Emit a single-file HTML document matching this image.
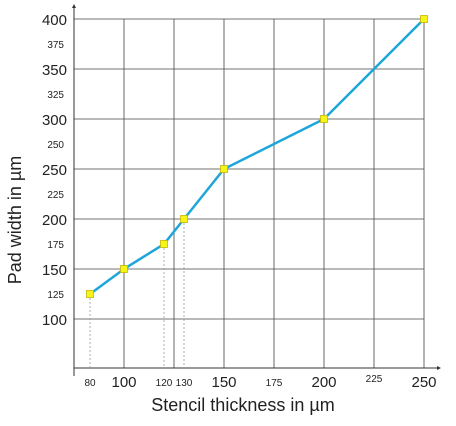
<!DOCTYPE html>
<html><head><meta charset="utf-8"><style>
body{margin:0;background:#fff;}
svg{display:block;font-family:"Liberation Sans",Arial,sans-serif;}
</style></head><body>
<svg id="chart" width="456" height="426" viewBox="0 0 456 426"></svg>
<script>
const xData=[83,100,120,130,150,200,250];
const yData=[125,150,175,200,250,300,400];
const dropIdx=[0,2,3];
const xTickVals=[83,100,120,130,150,175,200,225,250];
const xTickLabels=["80","100","120","130","150","175","200","225","250"];
const xTickBig=[false,true,false,false,true,false,true,false,true];
const yTickVals=[400,375,350,325,300,275,250,225,200,175,150,125,100];
const yTickLabels=["400","375","350","325","300","250","250","225","200","175","150","125","100"];
const yTickBig=[true,false,true,false,true,false,true,false,true,false,true,false,true];
const gridX=[100,125,150,175,200,225,250];
const gridY=[100,150,200,250,300,350,400];

const X=v=>124+(v-100)*2;
const Y=v=>419-v;
const svg=document.getElementById('chart');
const NS='http://www.w3.org/2000/svg';
function mk(tag,attrs,parent){const e=document.createElementNS(NS,tag);for(const k in attrs)e.setAttribute(k,attrs[k]);(parent||svg).appendChild(e);return e;}

const grid=mk('g',{});


gridX.forEach(v=>{mk('line',{x1:X(v),x2:X(v),y1:19,y2:368,stroke:'#444','stroke-width':0.8},grid);});
gridY.forEach(v=>{mk('line',{x1:74,x2:424,y1:Y(v),y2:Y(v),stroke:'#444','stroke-width':0.8},grid);});

const ax=mk('g',{});


mk('line',{x1:74,x2:74,y1:6,y2:376,stroke:'#333','stroke-width':1},ax);
mk('line',{x1:74,x2:438,y1:368,y2:368,stroke:'#333','stroke-width':1},ax);
mk('polygon',{points:'72,8 76,8 74,4',fill:'#333'},ax);
mk('polygon',{points:'437,366 437,370 441,368',fill:'#333'},ax);

dropIdx.forEach(i=>{
  const l=mk('line',{x1:X(xData[i]),x2:X(xData[i]),y1:Y(yData[i]),y2:368,stroke:'#999','stroke-width':0.8,'stroke-dasharray':'2,2'});
  
  
});

const pts=xData.map((v,i)=>X(v)+','+Y(yData[i])).join(' ');
const line=mk('polyline',{points:pts,fill:'none',stroke:'#1ea5da','stroke-width':2.5});


xData.forEach((v,i)=>{
  const r=mk('rect',{x:X(v)-3.5,y:Y(yData[i])-3.5,width:7,height:7,fill:'#f5f51a',stroke:'#c8b400','stroke-width':0.8});
  
  
});

xTickVals.forEach((v,i)=>{
  const big=xTickBig[i];
  const t=mk('text',{x:X(v),y:big?387:(v===225?382:386),'text-anchor':'middle','font-size':big?15:10,fill:'#222'});
  t.textContent=xTickLabels[i];
  
  
});
yTickVals.forEach((v,i)=>{
  const big=yTickBig[i];
  const t=mk('text',{x:big?67:64,y:Y(v)+(big?6:4),'text-anchor':'end','font-size':big?15:10,fill:'#222'});
  t.textContent=yTickLabels[i];
  
  
});

const xt=mk('text',{x:243,y:411,'text-anchor':'middle','font-size':18,fill:'#222'});
xt.textContent='Stencil thickness in µm';


const yt=mk('text',{x:0,y:0,'text-anchor':'middle','font-size':18,fill:'#222',transform:'translate(21,220) rotate(-90)'});
yt.textContent='Pad width in µm';


</script>
</body></html>
